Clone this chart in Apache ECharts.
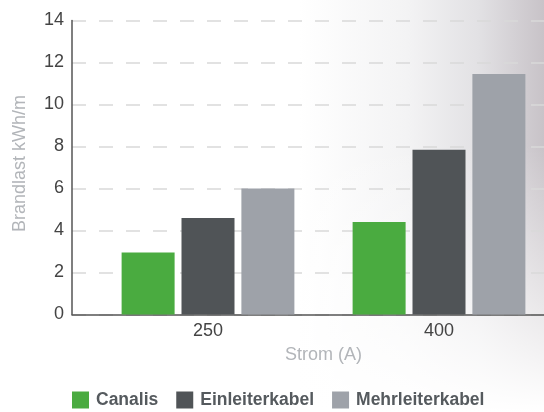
<!DOCTYPE html>
<html>
<head>
<meta charset="utf-8">
<script src="https://cdn.jsdelivr.net/npm/echarts@6/dist/echarts.min.js"></script>
<style>
html,body{margin:0;padding:0;}
body{width:544px;height:412px;overflow:hidden;
background:
 linear-gradient(to bottom, rgba(255,255,255,0) 35%, #fff 100%),
 linear-gradient(to right, #fff 55%, #f3f3f4 75%, #e2e1e4 88%, #c8c3c8 100%);}
#chart{width:544px;height:412px;}
</style>
</head>
<body>
<div id="chart"></div>
<script>
const categories = ['250', '400'];
const seriesNames = ['Canalis', 'Einleiterkabel', 'Mehrleiterkabel'];
const canalis = [2.95, 4.4];
const einleiter = [4.6, 7.85];
const mehrleiter = [6.0, 11.45];
const yTicks = { min: 0, max: 14, interval: 2 };
const colors = ['#4aab40', '#505457', '#9ea2a9'];

const font = 'Liberation Sans, Arial, sans-serif';
const chart = echarts.init(document.getElementById('chart'), null, { renderer: 'canvas' });
const values = [canalis, einleiter, mehrleiter];

chart.setOption({
  backgroundColor: 'transparent',
  animation: false,
  color: colors,
  textStyle: { fontFamily: font },
  grid: [
    { left: 72, right: 0, top: 20.5, bottom: 97.5, outerBoundsMode: 'none' },
    { left: 92.5, width: 462, top: 20.5, bottom: 97.5, outerBoundsMode: 'none' }
  ],
  legend: {
    left: 72, top: 391, padding: 0,
    itemWidth: 17, itemHeight: 17, itemGap: 18,
    icon: 'rect',
    textStyle: { fontFamily: font, fontSize: 17.5, fontWeight: 'bold', color: '#555a5e', padding: [0, 0, 0, 2] },
    data: seriesNames
  },
  xAxis: [
    {
      gridIndex: 0, type: 'category', data: [''],
      axisLine: { show: true, lineStyle: { color: '#555', width: 1.5 } },
      axisTick: { show: false }, axisLabel: { show: false }, splitLine: { show: false }
    },
    {
      gridIndex: 1, type: 'category', data: categories,
      axisLine: { show: false }, axisTick: { show: false },
      axisLabel: { margin: 8, fontSize: 18, color: '#444', fontFamily: font },
      name: 'Strom (A)', nameLocation: 'middle', nameGap: 32,
      nameTextStyle: { fontSize: 18, color: '#b2b5b9', fontFamily: font }
    }
  ],
  yAxis: [
    {
      gridIndex: 0, type: 'value', min: yTicks.min, max: yTicks.max, interval: yTicks.interval,
      axisLine: { show: true, lineStyle: { color: '#555', width: 1.5 } },
      axisTick: { show: false },
      axisLabel: { margin: 8, fontSize: 18, color: '#444', fontFamily: font },
      splitLine: { show: true, lineStyle: { color: '#d9d9d9', width: 1.5, type: [14, 13] } },
      name: 'Brandlast kWh/m', nameLocation: 'middle', nameGap: 43,
      nameTextStyle: { fontSize: 18, color: '#b2b5b9', fontFamily: font, padding: [0, 0, 0, 8] }
    },
    {
      gridIndex: 1, type: 'value', min: yTicks.min, max: yTicks.max, interval: yTicks.interval,
      show: false
    }
  ],
  series: seriesNames.map((n, i) => ({
    name: n, type: 'bar', xAxisIndex: 1, yAxisIndex: 1,
    data: values[i],
    barWidth: 53, barGap: '13%',
    itemStyle: { color: colors[i] }
  }))
});
</script>
</body>
</html>
